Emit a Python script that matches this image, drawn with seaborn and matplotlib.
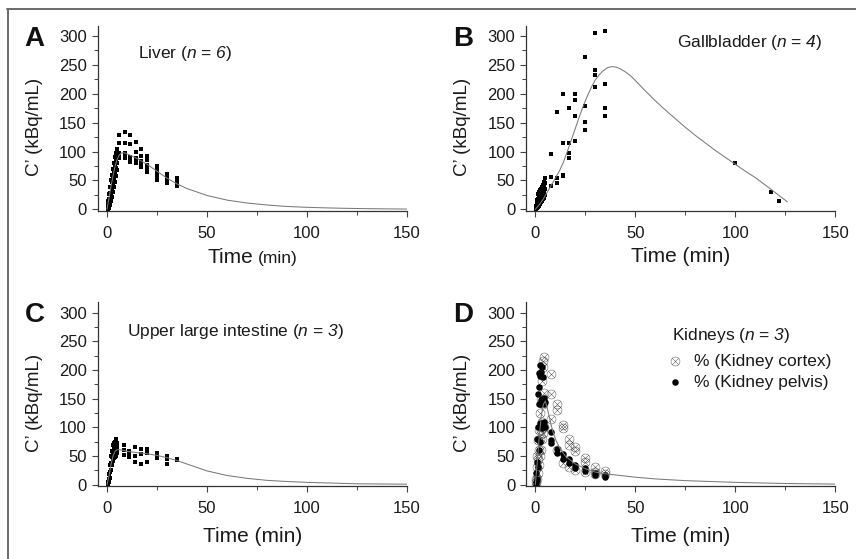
import numpy as np
import pandas as pd
import seaborn as sns
import matplotlib.pyplot as plt
from matplotlib.lines import Line2D
from matplotlib.ticker import MultipleLocator

sns.set_style("ticks")
plt.rcParams['font.family'] = ['Liberation Sans', 'DejaVu Sans']
# math pieces are only used for the italic "n = k" parts
plt.rcParams['mathtext.fontset'] = 'custom'
plt.rcParams['mathtext.rm'] = 'Liberation Sans:italic'
plt.rcParams['mathtext.it'] = 'Liberation Sans:italic'

# ---- data ----
# A: liver
liver_t = [0.5, 0.5, 0.5, 0.5, 1, 1, 1, 1, 1.5, 1.5, 1.5, 1.5, 2, 2, 2, 2,
           2.5, 2.5, 2.5, 2.5, 3, 3, 3, 3, 3.5, 3.5, 3.5, 3.5, 4, 4, 4, 4,
           4.5, 4.5, 4.5, 4.5, 5, 5, 5, 5,
           6, 6, 6, 6, 6, 9, 9, 9, 9, 9, 11.5, 11.5, 11.5, 11.5, 11.5,
           14.5, 14.5, 14.5, 14.5, 14.5, 17, 17, 17, 17, 17, 20, 20, 20, 20, 20,
           25, 25, 25, 25, 25, 30, 30, 30, 30, 30, 35, 35, 35, 35, 35]
liver_v = [0, 3, 8, 14, 3, 10, 18, 26, 8, 18, 28, 38, 14, 26, 38, 50,
           22, 34, 48, 60, 30, 42, 56, 70, 38, 52, 65, 80, 48, 62, 75, 90,
           58, 72, 85, 98, 68, 80, 92, 104,
           129, 115, 97, 92, 88, 134, 115, 98, 93, 88, 129, 113, 90, 85, 82,
           116, 99, 88, 84, 80, 104, 92, 84, 78, 74, 93, 85, 77, 70, 65,
           75, 68, 62, 56, 51, 62, 57, 52, 48, 45, 55, 50, 46, 42, 40]
liver_fit_t = [0, 1, 2, 3, 4, 5, 6, 7, 8, 9, 10, 12, 15, 20, 25, 30, 35, 40, 45,
               50, 55, 60, 70, 80, 90, 100, 110, 120, 130, 140, 150]
liver_fit_v = [0, 20, 40, 58, 74, 86, 93, 97, 98, 97.5, 96, 93, 88, 78, 66, 54, 44, 36, 30,
               24, 20, 16, 11, 7.5, 5, 3.5, 2.5, 1.7, 1.2, 0.8, 0.5]

# B: gallbladder
gb_t = [0.5, 0.5, 0.5, 0.5, 1, 1, 1, 1, 1.5, 1.5, 1.5, 1.5, 2, 2, 2, 2,
        2.5, 2.5, 2.5, 2.5, 3, 3, 3, 3, 3.5, 3.5, 3.5, 3.5, 4, 4, 4, 4,
        4.5, 4.5, 4.5, 4.5, 5, 5, 5, 5,
        8, 8, 8, 11, 11, 11, 14, 14, 14, 14, 17, 17, 17, 17,
        20, 20, 20, 20, 25, 25, 25, 25, 30, 30, 30, 30, 35, 35, 35, 35,
        100, 118, 122]
gb_v = [0, 2, 4, 6, 2, 5, 10, 16, 4, 10, 18, 26, 6, 14, 24, 30,
        10, 18, 28, 33, 12, 20, 30, 35, 14, 24, 32, 38, 18, 28, 36, 42,
        20, 32, 40, 48, 24, 36, 46, 54,
        96, 56, 40, 168, 54, 45, 200, 115, 60, 57, 175, 114, 98, 88,
        200, 190, 162, 118, 263, 179, 152, 137, 305, 241, 232, 212, 308, 217, 175, 162,
        80, 30, 15]
gb_fit_t = [0, 2, 4, 6, 8, 10, 12, 14, 16, 18, 20, 22, 24, 26, 28, 30, 32, 34, 36, 38,
            40, 42, 45, 48, 50, 55, 60, 65, 70, 75, 80, 85, 90, 95, 100, 105, 110,
            115, 120, 123, 126]
gb_fit_v = [0, 8, 18, 30, 42, 54, 66, 81, 100, 120, 140, 160, 179, 196, 211, 224, 233,
            240, 245, 247, 246.5, 244, 238, 230, 223, 205, 188, 172, 157, 142, 128, 115,
            102, 90, 78, 66, 55, 42, 29, 21, 13]

# C: upper large intestine
uli_t = [0.5, 0.5, 0.5, 1, 1, 1, 1.5, 1.5, 1.5, 2, 2, 2, 2.5, 2.5, 2.5,
         3, 3, 3, 3.5, 3.5, 3.5, 4, 4, 4, 4.5, 4.5, 4.5, 5, 5, 5, 5,
         8.5, 8.5, 8.5, 11, 11, 11, 14, 14, 14, 17, 17, 17, 20, 20, 20,
         25, 25, 25, 30, 30, 30, 35, 35]
uli_v = [0, 2, 5, 4, 10, 18, 12, 22, 35, 25, 38, 50, 35, 48, 58,
         42, 55, 70, 46, 62, 72, 48, 65, 75, 50, 60, 80, 55, 62, 68, 72,
         69, 60, 52, 59, 55, 48, 65, 50, 39, 62, 54, 36, 62, 55, 40,
         55, 49, 46, 50, 44, 36, 45, 43]
uli_fit_t = [0, 1, 2, 3, 4, 5, 6, 8, 10, 15, 20, 25, 30, 35, 40, 45, 50, 55, 60, 70,
             80, 90, 100, 125, 150]
uli_fit_v = [0, 15, 35, 50, 58, 61, 61, 60, 58, 56, 54, 51, 47, 42, 36, 30, 24, 20, 16, 11,
             7.5, 5.5, 4, 1.5, 0.8]

# D: kidneys
cortex_t = [0.5, 0.5, 0.5, 1, 1, 1, 1.5, 1.5, 1.5, 2, 2, 2, 2.5, 2.5, 2.5,
            3, 3, 3, 3.5, 3.5, 3.5, 4, 4, 4, 4, 4.5, 4.5, 4.5,
            8, 8, 8, 11, 11, 11, 14, 14, 14, 17, 17, 17, 20, 20, 20,
            25, 25, 25, 30, 30, 30, 35, 35]
cortex_v = [0, 5, 10, 10, 30, 50, 20, 45, 78, 35, 60, 95, 50, 80, 125,
            60, 95, 150, 80, 110, 180, 90, 140, 205, 215, 100, 160, 222,
            193, 158, 115, 141, 131, 60, 104, 98, 37, 80, 69, 30, 65, 59, 25,
            46, 40, 22, 30, 22, 18, 24, 18]
pelvis_t = [0.5, 0.5, 0.5, 1, 1, 1, 1.5, 1.5, 1.5, 2, 2, 2, 2, 2.5, 2.5, 2.5, 2.5,
            3, 3, 3, 3, 3.5, 3.5, 3.5, 3.5, 4, 4, 4, 4.5, 4.5, 4.5, 5, 5,
            8, 8, 8, 11, 11, 14, 14, 17, 17, 20, 20, 25, 25, 30, 30, 35, 35]
pelvis_v = [0, 5, 20, 10, 40, 80, 30, 100, 159, 60, 140, 171, 194, 75, 107, 209, 190,
            100, 148, 197, 140, 98, 107, 150, 205, 105, 142, 188, 110, 152, 140, 100, 145,
            92, 78, 72, 63, 55, 53, 44, 44, 38, 34, 29, 29, 23, 20, 17, 17, 14]
kid_fit_t = [0, 1, 2, 3, 4, 5, 6, 7, 8, 9, 10, 12, 15, 20, 25, 30, 35, 40, 50, 60,
             75, 100, 125, 150]
kid_fit_v = [0, 40, 85, 120, 140, 146, 133, 118, 103, 90, 80, 65, 50, 36, 28, 22, 19, 17,
             13, 10, 7, 4, 2, 1]

# ---- figure ----
fig = plt.figure(figsize=(8.56, 5.59), dpi=100)
W, H = 856, 559


def make_ax(left_px, top_px, right_px, bottom_px):
    return fig.add_axes([left_px / W, 1 - bottom_px / H,
                         (right_px - left_px) / W, (bottom_px - top_px) / H])


axA = make_ax(98, 25.6, 407, 210.5)
axB = make_ax(526.3, 25.6, 835.3, 210.5)
axC = make_ax(98, 302.4, 407, 485.8)
axD = make_ax(526.3, 302.4, 835.3, 485.8)

line_kw = dict(color='#7a7a7a', linewidth=0.75, estimator=None, sort=False)
sq_kw = dict(marker='s', s=9, color='black', linewidth=0)

for ax, (t, v, ft, fv) in zip(
        [axA, axB, axC],
        [(liver_t, liver_v, liver_fit_t, liver_fit_v),
         (gb_t, gb_v, gb_fit_t, gb_fit_v),
         (uli_t, uli_v, uli_fit_t, uli_fit_v)]):
    sns.lineplot(x=ft, y=fv, ax=ax, **line_kw)
    sns.scatterplot(x=t, y=v, ax=ax, **sq_kw)

sns.lineplot(x=kid_fit_t, y=kid_fit_v, ax=axD, **line_kw)
sns.scatterplot(x=cortex_t, y=cortex_v, ax=axD, marker=r'$\otimes$', s=46,
                color='#333333', linewidth=0, label='% (Kidney cortex)')
sns.scatterplot(x=pelvis_t, y=pelvis_v, ax=axD, marker='o', s=22,
                color='black', linewidth=0, label='% (Kidney pelvis)')

for i, (ax, letter) in enumerate(zip([axA, axB, axC, axD], 'ABCD')):
    ax.set_xlim(-4.5, 150)
    ax.set_ylim(-2, 318)
    ax.set_xticks([0, 50, 100, 150])
    ax.set_yticks([0, 50, 100, 150, 200, 250, 300])
    ax.xaxis.set_minor_locator(MultipleLocator(25))
    ax.yaxis.set_minor_locator(MultipleLocator(25))
    ax.tick_params(which='major', direction='out', length=4, width=0.8,
                   color='#444444', labelsize=12, labelcolor='#1a1a1a')
    ax.tick_params(which='minor', direction='out', length=3, width=0.7, color='#444444')
    ax.tick_params(axis='x', pad=7)
    ax.tick_params(axis='y', pad=4)
    sns.despine(ax=ax)
    for s in ['left', 'bottom']:
        ax.spines[s].set_color('#333333')
        ax.spines[s].set_linewidth(0.9)
    if letter != 'A':
        ax.set_xlabel('Time (min)', fontsize=15, color='#1a1a1a')
    else:
        ax.set_xlabel('')
    ax.set_ylabel('C\u2019 (kBq/mL)', fontsize=13.5, color='#1a1a1a')
    ax.xaxis.set_label_coords(0.5, -0.2 if i < 2 else -0.225)
    ax.yaxis.set_label_coords(-0.178, 0.45)
    ax.text(-0.205, 0.93, letter, transform=ax.transAxes, fontsize=20,
            fontweight='bold', ha='center', va='center', color='#111111')

# panel A axis title has a smaller "(min)"
axA.text(0.503, -0.282, 'Time', transform=axA.transAxes, fontsize=15,
         ha='right', va='baseline', color='#1a1a1a')
axA.text(0.518, -0.282, '(min)', transform=axA.transAxes, fontsize=12.5,
         ha='left', va='baseline', color='#1a1a1a')

axA.text(0.13, 0.85, r'Liver ($n$ = $6$)', transform=axA.transAxes, fontsize=12.5,
         ha='left', va='center', color='#1a1a1a')
axB.text(0.488, 0.91, r'Gallbladder ($n$ = $4$)', transform=axB.transAxes,
         fontsize=12.5, ha='left', va='center', color='#1a1a1a')
axC.text(0.095, 0.84, r'Upper large intestine ($n$ = $3$)', transform=axC.transAxes,
         fontsize=12.5, ha='left', va='center', color='#1a1a1a')
axD.text(0.47, 0.82, r'Kidneys ($n$ = $3$)', transform=axD.transAxes, fontsize=12.5,
         ha='left', va='center', color='#1a1a1a')
leg = axD.legend(loc='upper right', bbox_to_anchor=(1.01, 0.76), frameon=False,
                 fontsize=12.5, handletextpad=0.5, labelspacing=0.35,
                 borderaxespad=0, handlelength=1.2, markerscale=1.0)
for txt in leg.get_texts():
    txt.set_color('#1a1a1a')

# partial frame around the figure (top and left edges)
fig.add_artist(Line2D([7 / W, 1], [1 - 9 / H, 1 - 9 / H], transform=fig.transFigure,
                      color='#6a6a6a', linewidth=1.4))
fig.add_artist(Line2D([8 / W, 8 / W], [0, 1 - 9 / H], transform=fig.transFigure,
                      color='#6a6a6a', linewidth=1.4))

fig.savefig('out.png', dpi=100)
